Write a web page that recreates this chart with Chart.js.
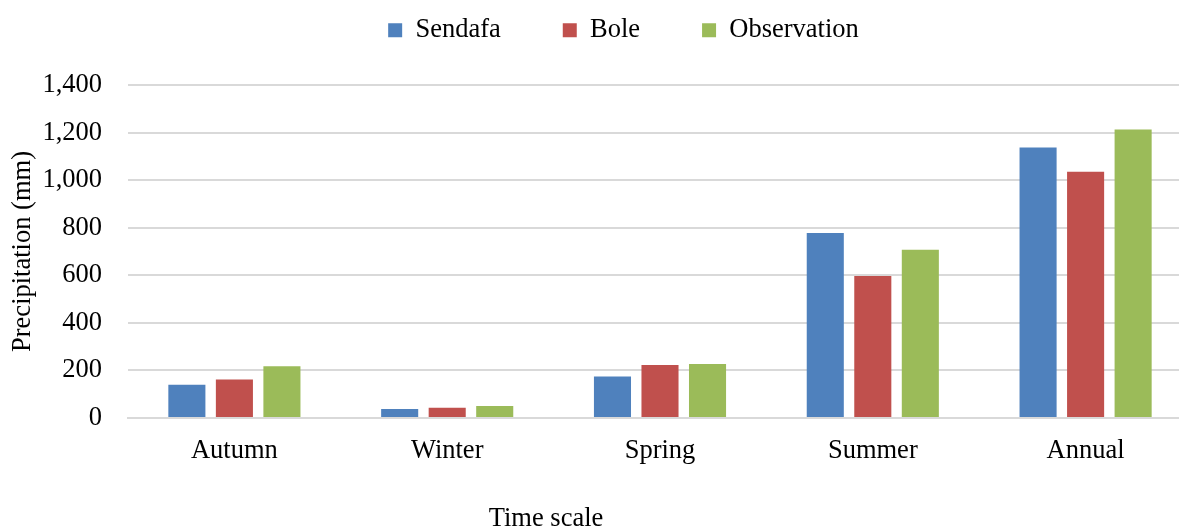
<!DOCTYPE html>
<html>
<head>
<meta charset="utf-8">
<script src="https://cdn.jsdelivr.net/npm/chart.js@4.4.1/dist/chart.umd.min.js"></script>
<style>
  html, body { margin: 0; padding: 0; background: #fff; overflow: hidden; }
  /* the plot runs a little past the right edge, as in the picture */
  #box { width: 1192px; height: 531px; }
</style>
</head>
<body>
<div id="box"><canvas id="chart"></canvas></div>
<script>
// chart data
var seasons = ["Autumn", "Winter", "Spring", "Summer", "Annual"];
var sendafa = [140, 38, 174, 778, 1137];
var bole = [162, 43, 223, 597, 1035];
var observation = [218, 50, 227, 707, 1213];
var yTicks = [0, 200, 400, 600, 800, 1000, 1200, 1400];

var serif = "'Liberation Serif', 'Times New Roman', serif";
var fontSize = 26.5;

// legend sits higher and a bit to the right, like the picture
var legendTweak = {
  id: "legendTweak",
  beforeLayout: function(chart) {
    var lg = chart.legend;
    if (lg && !lg._tweaked) {
      var fitOrig = lg.fit;
      lg.fit = function() {
        fitOrig.call(this);
        this.height = 85;
      };
      lg._tweaked = true;
    }
  },
  afterLayout: function(chart) {
    var lg = chart.legend;
    lg.top = -45;
    lg.left = lg.left + 55;
  }
};

// x axis title, placed where it is in the picture
var xTitle = {
  id: "xTitle",
  afterDraw: function(chart) {
    var c = chart.ctx;
    c.save();
    c.font = fontSize + "px " + serif;
    c.fillStyle = "#000";
    c.textAlign = "center";
    c.textBaseline = "middle";
    c.fillText("Time scale", 546, 519);
    c.restore();
  }
};

var ctx = document.getElementById("chart").getContext("2d");

new Chart(ctx, {
  type: "bar",
  data: {
    labels: seasons,
    datasets: [
      { label: "Sendafa", data: sendafa, backgroundColor: "#4F81BD" },
      { label: "Bole", data: bole, backgroundColor: "#C0504D" },
      { label: "Observation", data: observation, backgroundColor: "#9BBB59" }
    ]
  },
  options: {
    responsive: true,
    maintainAspectRatio: false,
    animation: false,
    layout: { padding: 0 },
    datasets: {
      bar: { categoryPercentage: 0.67, barPercentage: 0.78 }
    },
    plugins: {
      legend: {
        position: "top",
        labels: {
          font: { family: serif, size: fontSize },
          color: "#000",
          boxWidth: 14,
          boxHeight: 14,
          padding: 62
        }
      },
      tooltip: { enabled: false }
    },
    scales: {
      x: {
        grid: { display: false, drawTicks: false },
        border: { color: "#d9d9d9", width: 2 },
        ticks: {
          font: { family: serif, size: fontSize },
          color: "#000",
          padding: 17
        },
        afterFit: function(scale) { scale.height = 113; }
      },
      y: {
        min: 0,
        max: 1400,
        afterBuildTicks: function(scale) {
          scale.ticks = yTicks.map(function(v) { return { value: v }; });
        },
        grid: { color: "#d9d9d9", lineWidth: 2, drawTicks: false },
        border: { display: false },
        ticks: {
          font: { family: serif, size: fontSize },
          color: "#000",
          padding: 26,
          callback: function(value) { return value.toLocaleString("en-US"); }
        },
        title: {
          display: true,
          text: "Precipitation (mm)",
          font: { family: serif, size: fontSize },
          color: "#000",
          padding: { top: 7, bottom: 0 }
        },
        afterFit: function(scale) { scale.width = 128; }
      }
    }
  },
  plugins: [legendTweak, xTitle]
});
</script>
</body>
</html>
